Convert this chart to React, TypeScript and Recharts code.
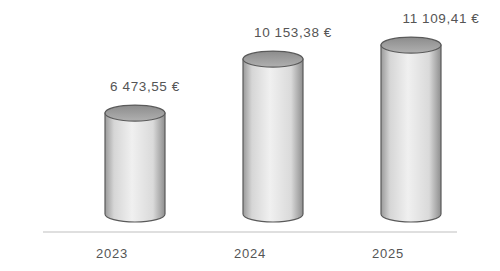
import React from 'react';
import { BarChart, Bar, XAxis, YAxis, LabelList } from 'recharts';

const years = ['2023', '2024', '2025'];
const amounts = [6473.55, 10153.38, 11109.41];
const amountLabels = ['6 473,55 €', '10 153,38 €', '11 109,41 €'];

const data = years.map((year, i) => ({ year, amount: amounts[i], label: amountLabels[i] }));

// 3D look: cylinders sit back from the axis, shifted right and up
const DEPTH_X = 23;
const DEPTH_Y = 24;
const RX = 30;
const RY = 8;

function Cylinder(props: any) {
  const { x, y, width, height } = props;
  const x0 = x + DEPTH_X + (width - 2 * RX) / 2;
  const x1 = x0 + 2 * RX;
  const cx = x0 + RX;
  const top = y - DEPTH_Y;
  const bottom = y + height - 18;
  return (
    <g>
      <path
        d={`M${x0},${top} L${x0},${bottom} A${RX},${RY} 0 0 0 ${x1},${bottom} L${x1},${top} Z`}
        fill="url(#cylBody)"
        stroke="#5a5a5a"
        strokeWidth={1.2}
      />
      <ellipse cx={cx} cy={top} rx={RX} ry={RY} fill="url(#cylTop)" stroke="#5a5a5a" strokeWidth={1.2} />
    </g>
  );
}

function ValueLabel(props: any) {
  const { x, y, width, value, index } = props;
  const cx = x + DEPTH_X + width / 2 + 10 + index * 10;
  return (
    <text
      x={cx}
      y={y - DEPTH_Y - 27}
      textAnchor="middle"
      dominantBaseline="central"
      fontSize={13.5}
      letterSpacing={0.6}
      fill="#555"
      fontFamily="'Liberation Sans', Arial, sans-serif"
    >
      {value}
    </text>
  );
}

export default function App() {
  return (
    <div style={{ position: 'absolute', left: 0, top: 0, background: '#fff' }}>
      <BarChart width={500} height={271} data={data} margin={{ top: 12, right: 43, left: 43, bottom: 9 }}>
        <defs>
          <linearGradient id="cylBody" x1="0" y1="0" x2="1" y2="0">
            <stop offset="0%" stopColor="#9a9a9a" />
            <stop offset="15%" stopColor="#d6d6d6" />
            <stop offset="45%" stopColor="#f0f0f0" />
            <stop offset="80%" stopColor="#dadada" />
            <stop offset="100%" stopColor="#8e8e8e" />
          </linearGradient>
          <linearGradient id="cylTop" x1="0" y1="0" x2="0" y2="1">
            <stop offset="0%" stopColor="#8c8c8c" />
            <stop offset="100%" stopColor="#b0b0b0" />
          </linearGradient>
        </defs>
        <XAxis
          dataKey="year"
          height={30}
          tickLine={false}
          dy={9}
          axisLine={{ stroke: '#d4d4d4', strokeWidth: 1.5 }}
          tick={{ fill: '#555', fontSize: 13, letterSpacing: 0.8, fontFamily: "'Liberation Sans', Arial, sans-serif" }}
        />
        <YAxis hide domain={[0, 15000]} />
        <Bar dataKey="amount" barSize={60} shape={<Cylinder />} isAnimationActive={false}>
          <LabelList dataKey="label" content={<ValueLabel />} />
        </Bar>
      </BarChart>
    </div>
  );
}
